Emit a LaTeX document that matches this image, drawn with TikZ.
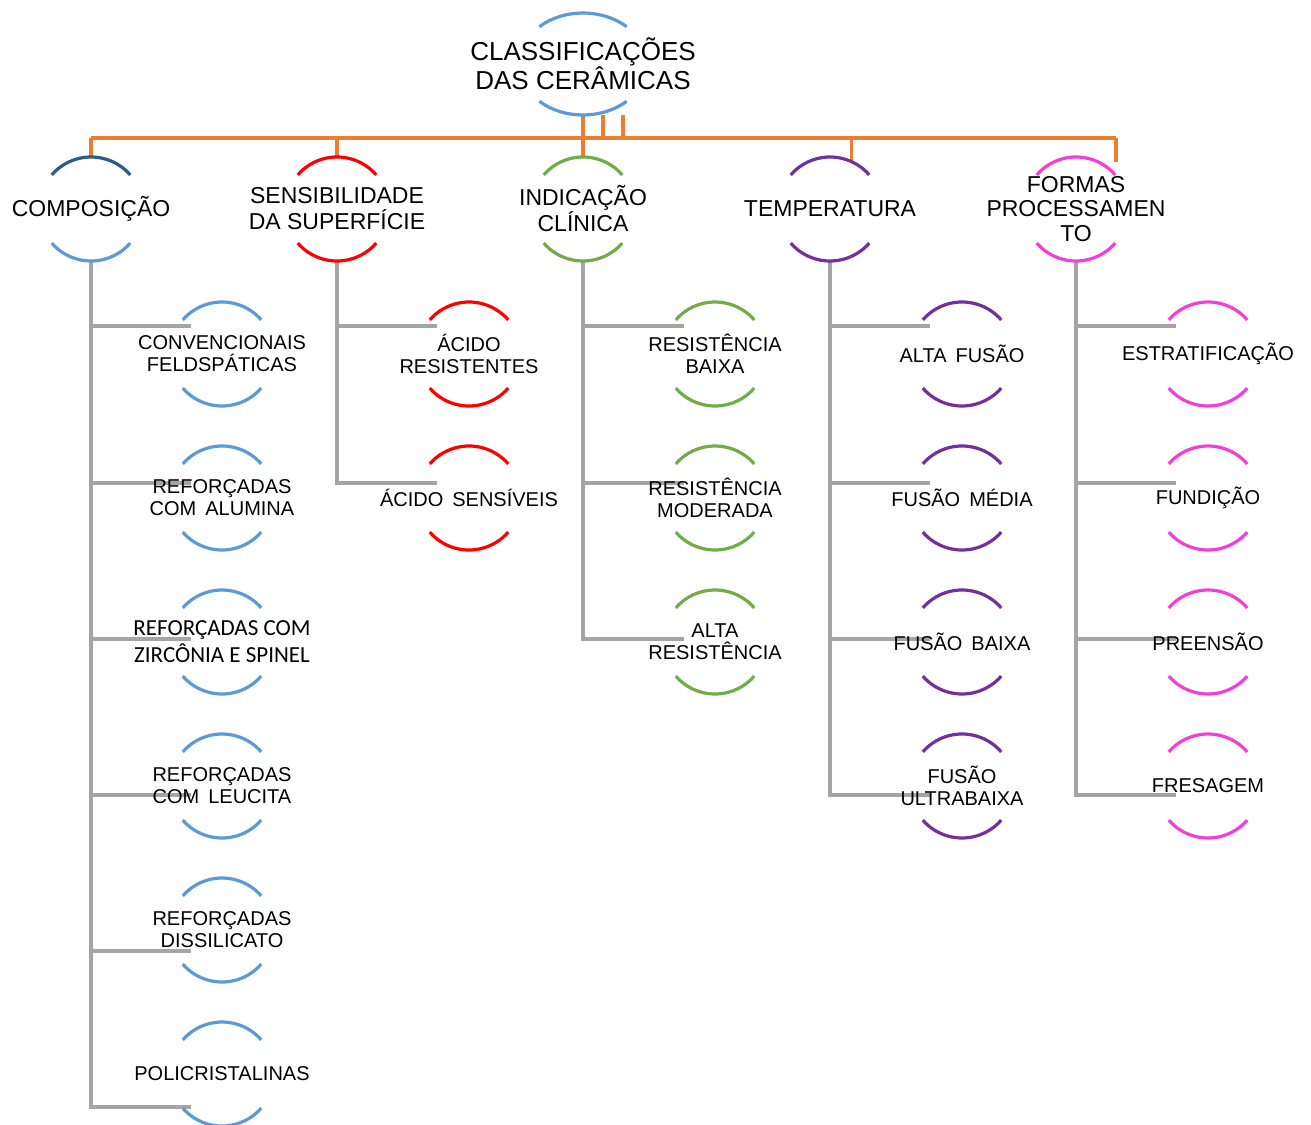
\documentclass[tikz,border=0pt]{standalone}
\usepackage{fontspec}
\setmainfont{Liberation Sans}
\newfontfamily\calibfont{Carlito}
\definecolor{orangeL}{HTML}{ED7D31}
\definecolor{grayL}{HTML}{A5A5A5}
\definecolor{blueA}{HTML}{5B9BD5}
\definecolor{darkblueA}{HTML}{2E5B88}
\definecolor{redA}{HTML}{FF0000}
\definecolor{greenA}{HTML}{70AD47}
\definecolor{purpleA}{HTML}{7030A0}
\definecolor{pinkA}{HTML}{F23FDB}
\newcommand\ArcPair[3]{%
  \draw[arcline,#2] (#1.41) arc[start angle=41,end angle=139,radius=52pt];
  \draw[arcline,#3] (#1.221) arc[start angle=221,end angle=319,radius=52pt];}
\newcommand\wsp{\hspace{0.45em}}
\begin{document}
\begin{tikzpicture}[x=1pt,y=-1pt,
  ring/.style={circle,minimum size=104pt,inner sep=0pt,outer sep=0pt},
  toptext/.style={align=center,inner sep=0pt,font=\fontsize{26}{29}\selectfont},
  lvlone/.style={align=center,inner sep=0pt,font=\fontsize{23}{26}\selectfont},
  lvltwo/.style={align=center,inner sep=0pt,font=\fontsize{20}{22}\selectfont},
  arcline/.style={line width=3.2pt},
  busline/.style={draw=orangeL,line width=3.2pt},
  treeline/.style={draw=grayL,line width=3.4pt},
]
\useasboundingbox[fill=white] (0,0) rectangle (1311,1124);

% ---------- rings (invisible circles) ----------
\node[ring,minimum size=102pt] (root) at (583,64) {};
\node[ring] (n1) at (91,209) {};
\node[ring] (n2) at (337,209) {};
\node[ring] (n3) at (583,209) {};
\node[ring] (n4) at (830,209) {};
\node[ring] (n5) at (1076,209) {};

\foreach \i/\y in {1/354,2/498,3/642,4/786,5/930,6/1074}{\node[ring] (n1\i) at (222,\y) {};}
\foreach \i/\y in {1/354,2/498}{\node[ring] (n2\i) at (469,\y) {};}
\foreach \i/\y in {1/354,2/498,3/642}{\node[ring] (n3\i) at (715,\y) {};}
\foreach \i/\y in {1/354,2/498,3/642,4/786}{\node[ring] (n4\i) at (962,\y) {};}
\foreach \i/\y in {1/354,2/498,3/642,4/786}{\node[ring] (n5\i) at (1208,\y) {};}

% ---------- joint coordinates ----------
\coordinate (bus) at (0,138);
\coordinate (busend) at (1116,138);
\coordinate (n5tip) at (1116,162);
\coordinate (stubA) at (603,115);
\coordinate (stubB) at (623,115);
\foreach \i/\y in {1/326,2/483,3/639,4/795,5/951,6/1107}{\coordinate (j1\i) at (191,\y);}
\foreach \i/\y in {1/326,2/483}{\coordinate (j2\i) at (437,\y);}
\foreach \i/\y in {1/326,2/483,3/639}{\coordinate (j3\i) at (684,\y);}
\foreach \i/\y in {1/326,2/483,3/639,4/795}{\coordinate (j4\i) at (930,\y);}
\foreach \i/\y in {1/326,2/483,3/639,4/795}{\coordinate (j5\i) at (1176,\y);}

% ---------- gray tree lines ----------
\draw[treeline] (n1.south) -- (n1.south |- j16) -- (j16);
\foreach \i in {1,...,5}{\draw[treeline] (n1.south |- j1\i) -- (j1\i);}
\draw[treeline] (n2.south) -- (n2.south |- j22) -- (j22);
\draw[treeline] (n2.south |- j21) -- (j21);
\draw[treeline] (n3.south) -- (n3.south |- j33) -- (j33);
\foreach \i in {1,2}{\draw[treeline] (n3.south |- j3\i) -- (j3\i);}
\draw[treeline] (n4.south) -- (n4.south |- j44) -- (j44);
\foreach \i in {1,2,3}{\draw[treeline] (n4.south |- j4\i) -- (j4\i);}
\draw[treeline] (n5.south) -- (n5.south |- j54) -- (j54);
\foreach \i in {1,2,3}{\draw[treeline] (n5.south |- j5\i) -- (j5\i);}

% ---------- orange bus ----------
\draw[busline] (n1.north |- bus) -- (busend);
\draw[busline] (n1.north |- bus) -- (n1.north);
\draw[busline] (n2.north |- bus) -- (n2.north);
\draw[busline] (root.south) -- (n3.north);
\draw[busline] (stubA) -- (stubA |- bus);
\draw[busline] (stubB) -- (stubB |- bus);
\draw[busline] (n4.66 |- bus) -- (n4.66);
\draw[busline] (busend) -- (n5tip);

% ---------- arcs ----------
\draw[arcline,blueA] (root.center) ++(47:64pt and 51pt) arc[start angle=47,end angle=133,x radius=64pt,y radius=51pt];
\draw[arcline,blueA] (root.center) ++(227:64pt and 51pt) arc[start angle=227,end angle=313,x radius=64pt,y radius=51pt];
\ArcPair{n1}{darkblueA}{blueA}
\ArcPair{n2}{redA}{redA}
\ArcPair{n3}{greenA}{greenA}
\ArcPair{n4}{purpleA}{purpleA}
\ArcPair{n5}{pinkA}{pinkA}
\foreach \i in {1,...,6}{\ArcPair{n1\i}{blueA}{blueA}}
\foreach \i in {1,2}{\ArcPair{n2\i}{redA}{redA}}
\foreach \i in {1,2,3}{\ArcPair{n3\i}{greenA}{greenA}}
\foreach \i in {1,...,4}{\ArcPair{n4\i}{purpleA}{purpleA}}
\foreach \i in {1,...,4}{\ArcPair{n5\i}{pinkA}{pinkA}}

% ---------- texts ----------
\node[toptext] (rootT) at (root.center) {CLASSIFICAÇÕES\\DAS CERÂMICAS};
\node[lvlone] (n1T) at (n1.center) {COMPOSIÇÃO};
\node[lvlone] (n2T) at (n2.center) {SENSIBILIDADE\\DA SUPERFÍCIE};
\node[lvlone] (n3T) at (n3.center) {INDICAÇÃO\\CLÍNICA};
\node[lvlone] (n4T) at (n4.center) {TEMPERATURA};
\node[lvlone,font=\fontsize{23}{24.5}\selectfont] (n5T) at (n5.center) {FORMAS\\PROCESSAMEN\\TO};

\node[lvltwo] (n11T) at (n11.center) {CONVENCIONAIS\\FELDSPÁTICAS};
\node[lvltwo] (n12T) at (n12.center) {REFORÇADAS\\COM\wsp ALUMINA};
\node[lvltwo,font=\calibfont\fontsize{23}{27}\selectfont] (n13T) at (n13.center) {REFORÇADAS COM\\ZIRCÔNIA E SPINEL};
\node[lvltwo] (n14T) at (n14.center) {REFORÇADAS\\COM\wsp LEUCITA};
\node[lvltwo] (n15T) at (n15.center) {REFORÇADAS\\DISSILICATO};
\node[lvltwo] (n16T) at (n16.center) {POLICRISTALINAS};

\node[lvltwo] (n21T) at (n21.center) {ÁCIDO\\RESISTENTES};
\node[lvltwo] (n22T) at (n22.center) {ÁCIDO\wsp SENSÍVEIS};

\node[lvltwo] (n31T) at (n31.center) {RESISTÊNCIA\\BAIXA};
\node[lvltwo] (n32T) at (n32.center) {RESISTÊNCIA\\MODERADA};
\node[lvltwo] (n33T) at (n33.center) {ALTA\\RESISTÊNCIA};

\node[lvltwo] (n41T) at (n41.center) {ALTA\wsp FUSÃO};
\node[lvltwo] (n42T) at (n42.center) {FUSÃO\wsp MÉDIA};
\node[lvltwo] (n43T) at (n43.center) {FUSÃO\wsp BAIXA};
\node[lvltwo] (n44T) at (n44.center) {FUSÃO\\ULTRABAIXA};

\node[lvltwo] (n51T) at (n51.center) {ESTRATIFICAÇÃO};
\node[lvltwo] (n52T) at (n52.center) {FUNDIÇÃO};
\node[lvltwo] (n53T) at (n53.center) {PREENSÃO};
\node[lvltwo] (n54T) at (n54.center) {FRESAGEM};
\end{tikzpicture}
\end{document}
